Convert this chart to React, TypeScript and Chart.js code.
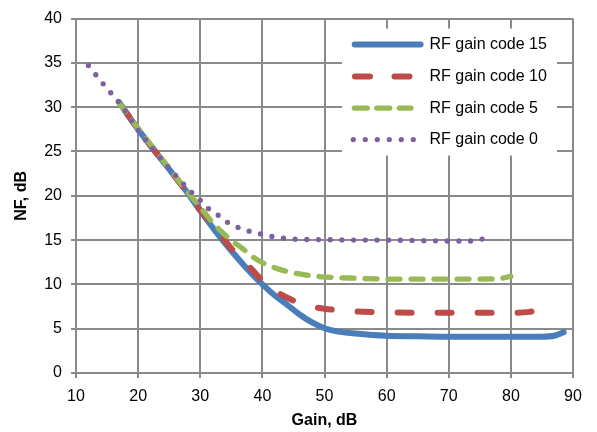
import React, { useEffect, useRef } from "react";
import { Chart, registerables } from "chart.js";

Chart.register(...registerables);

// Noise figure vs. gain for four RF gain codes
const gainCode15 = [17, 20, 25, 28, 30, 33, 35, 38, 40, 42, 44, 46, 48, 50, 52, 55, 60, 65, 70, 75, 80, 85, 87, 88.5];
const nfCode15 = [30.5, 27.5, 23.0, 20.3, 18.3, 15.5, 13.8, 11.4, 10.0, 8.75, 7.7, 6.6, 5.7, 5.05, 4.7, 4.45, 4.2, 4.15, 4.1, 4.1, 4.1, 4.1, 4.2, 4.6];

const gainCode10 = [17, 20, 25, 28, 30, 32, 33.7, 35.3, 37, 38.3, 40, 42, 44, 46, 48, 50, 52, 55, 60, 65, 70, 75, 80, 83, 84.5];
const nfCode10 = [30.5, 27.5, 23.0, 20.3, 18.4, 16.7, 15.2, 13.8, 12.6, 11.7, 10.4, 9.3, 8.5, 7.9, 7.5, 7.25, 7.1, 6.95, 6.85, 6.8, 6.8, 6.8, 6.8, 6.9, 7.2];

const gainCode5 = [16.8, 20, 25, 28, 30, 32.1, 34.8, 36.7, 39.1, 42.3, 46.6, 50.9, 55.2, 60, 65, 70, 75, 78, 80];
const nfCode5 = [30.6, 27.6, 23.1, 20.4, 18.7, 16.9, 15.1, 14.1, 12.8, 11.8, 11.1, 10.8, 10.7, 10.6, 10.6, 10.6, 10.6, 10.65, 10.9];

const gainCode0 = [12, 15, 17, 20, 22.6, 25, 28.6, 30, 31.4, 32.9, 34.4, 36.2, 37.9, 39.7, 41.6, 43.5, 45.3, 50, 55, 60, 65, 70, 74, 76];
const nfCode0 = [34.7, 32.1, 30.5, 27.4, 25.1, 23.1, 20.4, 19.5, 18.5, 17.8, 17.0, 16.4, 16.0, 15.7, 15.4, 15.2, 15.1, 15.05, 15.0, 15.0, 14.95, 14.9, 14.9, 15.25];

const seriesLabels = ["RF gain code 15", "RF gain code 10", "RF gain code 5", "RF gain code 0"];

const xTicks = { min: 10, max: 90, step: 10 };
const yTicks = { min: 0, max: 40, step: 5 };

const FONT = "'Liberation Sans', Arial, sans-serif";
const GRID = "#8a8a8a";

const toPoints = (xs: number[], ys: number[]) => xs.map((x, i) => ({ x, y: ys[i] }));

// Legend sample styles, in legend order
const legendStyles = [
  { color: "#4A7EBB", width: 6, dash: [] as number[], from: 354.7, to: 420.6 },
  { color: "#BE4B48", width: 6, dash: [15, 24.5], from: 355, to: 411 },
  { color: "#98B954", width: 5.3, dash: [13, 9.5], from: 354.3, to: 411 },
  { color: "#7D60A0", width: 5.3, dash: [0, 12], from: 353.3, to: 413.5 },
];

const insetLegend = {
  id: "insetLegend",
  afterDatasetsDraw(chart: any) {
    const { ctx, chartArea } = chart;
    const boxLeft = chartArea.right - 231;
    const boxTop = chartArea.top + 10;
    ctx.save();
    ctx.fillStyle = "#ffffff";
    ctx.fillRect(boxLeft, boxTop, 215, 127);
    const rowY = [26, 58, 89.5, 121];
    seriesLabels.forEach((label, i) => {
      const s = legendStyles[i];
      const y = chartArea.top + rowY[i];
      ctx.beginPath();
      ctx.setLineDash(s.dash);
      ctx.lineCap = "round";
      ctx.lineWidth = s.width;
      ctx.strokeStyle = s.color;
      ctx.moveTo(s.from, y);
      ctx.lineTo(s.to, y);
      ctx.stroke();
      ctx.setLineDash([]);
      ctx.fillStyle = "#000";
      ctx.font = `16px ${FONT}`;
      ctx.textBaseline = "middle";
      ctx.textAlign = "left";
      ctx.fillText(label, 429.5, y);
    });
    ctx.restore();
  },
};

export default function App() {
  const ref = useRef<HTMLCanvasElement>(null);

  useEffect(() => {
    if (!ref.current) return;
    Chart.defaults.font.family = FONT;
    const chart = new Chart(ref.current, {
      type: "scatter",
      data: {
        datasets: [
          {
            label: seriesLabels[0],
            data: toPoints(gainCode15, nfCode15),
            borderColor: "#4A7EBB",
            borderWidth: 6,
            borderCapStyle: "round",
            borderJoinStyle: "round",
            order: 4,
          },
          {
            label: seriesLabels[1],
            data: toPoints(gainCode10, nfCode10),
            borderColor: "#BE4B48",
            borderWidth: 6,
            borderDash: [14, 26],
            borderDashOffset: 29,
            borderCapStyle: "round",
            order: 3,
          },
          {
            label: seriesLabels[2],
            data: toPoints(gainCode5, nfCode5),
            borderColor: "#98B954",
            borderWidth: 5.3,
            borderDash: [12, 11],
            borderCapStyle: "round",
            order: 2,
          },
          {
            label: seriesLabels[3],
            data: toPoints(gainCode0, nfCode0),
            borderColor: "#7D60A0",
            borderWidth: 5.3,
            borderDash: [0, 11.7],
            borderCapStyle: "round",
            order: 1,
          },
        ].map((d) => ({
          ...d,
          showLine: true,
          pointRadius: 0,
          pointHoverRadius: 0,
          fill: false,
          cubicInterpolationMode: "monotone" as const,
        })),
      },
      options: {
        animation: false,
        responsive: false,
        devicePixelRatio: 1,
        layout: { padding: { left: 0, right: 24, top: 14, bottom: 0 } },
        plugins: { legend: { display: false }, tooltip: { enabled: false } },
        scales: {
          x: {
            type: "linear",
            min: xTicks.min,
            max: xTicks.max,
            ticks: { stepSize: xTicks.step, color: "#000", font: { size: 16 }, padding: 9, maxRotation: 0 },
            grid: { color: GRID, lineWidth: 2, tickLength: 5 },
            border: { color: GRID, width: 2 },
            title: {
              display: true,
              text: "Gain, dB",
              color: "#000",
              font: { size: 16, weight: "bold" },
              padding: { top: 0, bottom: 2 },
            },
            afterFit: (s: any) => {
              s.height = 59;
            },
          },
          y: {
            type: "linear",
            min: yTicks.min,
            max: yTicks.max,
            ticks: { stepSize: yTicks.step, color: "#000", font: { size: 16 }, padding: 9 },
            grid: { color: GRID, lineWidth: 2, tickLength: 5 },
            border: { color: GRID, width: 2 },
            title: {
              display: true,
              text: "NF, dB",
              color: "#000",
              font: { size: 16, weight: "bold" },
              padding: { top: 12, bottom: 0 },
            },
            afterFit: (s: any) => {
              s.width = 76;
            },
          },
        },
      },
      plugins: [insetLegend],
    } as any);
    return () => chart.destroy();
  }, []);

  return (
    <div style={{ position: "fixed", left: 0, top: 0, width: 597, height: 432, background: "#fff" }}>
      <canvas ref={ref} width={597} height={432} style={{ display: "block" }} />
    </div>
  );
}
